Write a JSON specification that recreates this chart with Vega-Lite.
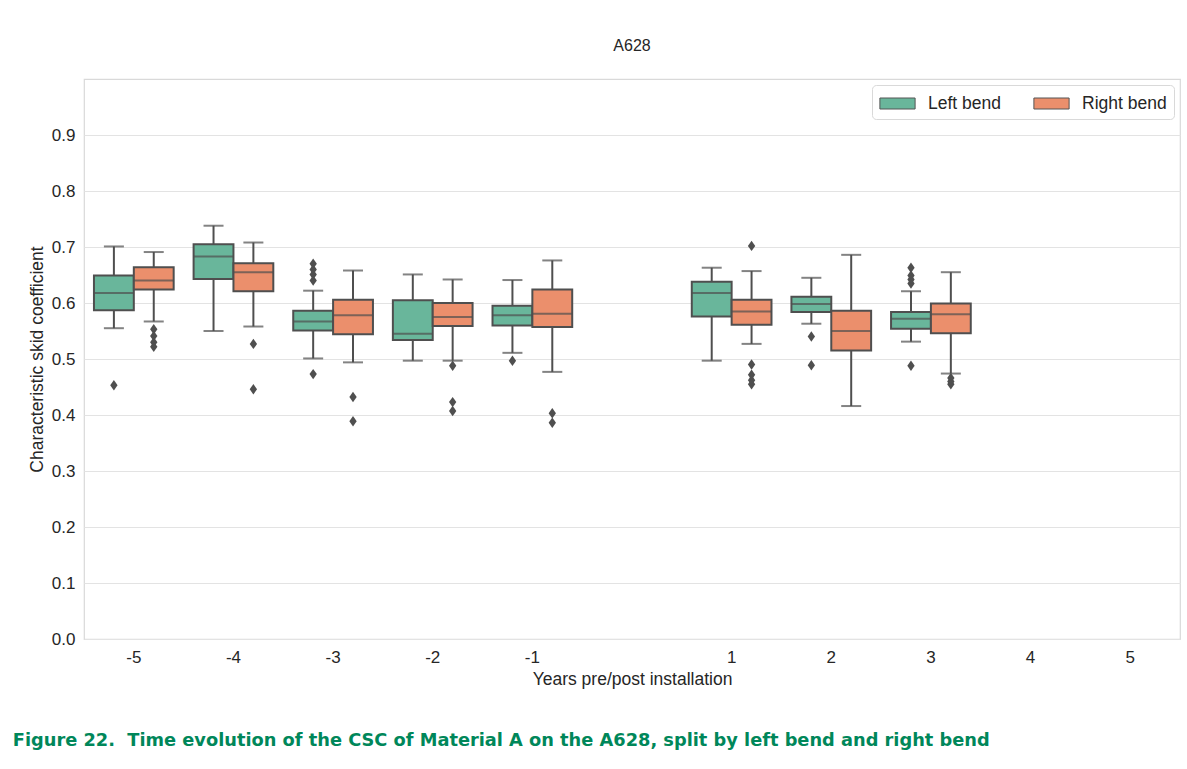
{
  "$schema": "https://vega.github.io/schema/vega-lite/v6.json",
  "background": "white",
  "autosize": {"type": "pad"},
  "padding": {"left": 12, "top": 37, "right": 7, "bottom": 12},
  "datasets": {
    "boxes": [
      {"year": -5, "side": "Left bend", "lo": 0.555, "q1": 0.587, "med": 0.618, "q3": 0.649, "hi": 0.701},
      {"year": -5, "side": "Right bend", "lo": 0.567, "q1": 0.624, "med": 0.640, "q3": 0.664, "hi": 0.691},
      {"year": -4, "side": "Left bend", "lo": 0.550, "q1": 0.643, "med": 0.683, "q3": 0.705, "hi": 0.738},
      {"year": -4, "side": "Right bend", "lo": 0.558, "q1": 0.621, "med": 0.655, "q3": 0.671, "hi": 0.708},
      {"year": -3, "side": "Left bend", "lo": 0.501, "q1": 0.551, "med": 0.567, "q3": 0.586, "hi": 0.622},
      {"year": -3, "side": "Right bend", "lo": 0.494, "q1": 0.544, "med": 0.578, "q3": 0.606, "hi": 0.658},
      {"year": -2, "side": "Left bend", "lo": 0.497, "q1": 0.534, "med": 0.545, "q3": 0.605, "hi": 0.651},
      {"year": -2, "side": "Right bend", "lo": 0.497, "q1": 0.559, "med": 0.575, "q3": 0.600, "hi": 0.642},
      {"year": -1, "side": "Left bend", "lo": 0.511, "q1": 0.560, "med": 0.578, "q3": 0.595, "hi": 0.641},
      {"year": -1, "side": "Right bend", "lo": 0.477, "q1": 0.557, "med": 0.581, "q3": 0.624, "hi": 0.676},
      {"year": 1, "side": "Left bend", "lo": 0.497, "q1": 0.576, "med": 0.618, "q3": 0.638, "hi": 0.663},
      {"year": 1, "side": "Right bend", "lo": 0.527, "q1": 0.561, "med": 0.585, "q3": 0.606, "hi": 0.657},
      {"year": 2, "side": "Left bend", "lo": 0.563, "q1": 0.584, "med": 0.598, "q3": 0.611, "hi": 0.645},
      {"year": 2, "side": "Right bend", "lo": 0.416, "q1": 0.515, "med": 0.550, "q3": 0.586, "hi": 0.686},
      {"year": 3, "side": "Left bend", "lo": 0.531, "q1": 0.554, "med": 0.572, "q3": 0.584, "hi": 0.621},
      {"year": 3, "side": "Right bend", "lo": 0.474, "q1": 0.546, "med": 0.580, "q3": 0.599, "hi": 0.655}
    ],
    "outliers": [
      {"year": -5, "side": "Left bend", "value": 0.453},
      {"year": -5, "side": "Right bend", "value": 0.553},
      {"year": -5, "side": "Right bend", "value": 0.541},
      {"year": -5, "side": "Right bend", "value": 0.530},
      {"year": -5, "side": "Right bend", "value": 0.522},
      {"year": -4, "side": "Right bend", "value": 0.527},
      {"year": -4, "side": "Right bend", "value": 0.446},
      {"year": -3, "side": "Left bend", "value": 0.670},
      {"year": -3, "side": "Left bend", "value": 0.660},
      {"year": -3, "side": "Left bend", "value": 0.651},
      {"year": -3, "side": "Left bend", "value": 0.640},
      {"year": -3, "side": "Left bend", "value": 0.473},
      {"year": -3, "side": "Right bend", "value": 0.432},
      {"year": -3, "side": "Right bend", "value": 0.389},
      {"year": -2, "side": "Right bend", "value": 0.488},
      {"year": -2, "side": "Right bend", "value": 0.423},
      {"year": -2, "side": "Right bend", "value": 0.407},
      {"year": -1, "side": "Left bend", "value": 0.497},
      {"year": -1, "side": "Right bend", "value": 0.403},
      {"year": -1, "side": "Right bend", "value": 0.386},
      {"year": 1, "side": "Right bend", "value": 0.702},
      {"year": 1, "side": "Right bend", "value": 0.490},
      {"year": 1, "side": "Right bend", "value": 0.472},
      {"year": 1, "side": "Right bend", "value": 0.462},
      {"year": 1, "side": "Right bend", "value": 0.455},
      {"year": 2, "side": "Left bend", "value": 0.540},
      {"year": 2, "side": "Left bend", "value": 0.489},
      {"year": 3, "side": "Left bend", "value": 0.663},
      {"year": 3, "side": "Left bend", "value": 0.649},
      {"year": 3, "side": "Left bend", "value": 0.642},
      {"year": 3, "side": "Left bend", "value": 0.635},
      {"year": 3, "side": "Left bend", "value": 0.488},
      {"year": 3, "side": "Right bend", "value": 0.466},
      {"year": 3, "side": "Right bend", "value": 0.460},
      {"year": 3, "side": "Right bend", "value": 0.455}
    ]
  },
  "title": {
    "text": "Figure 22.\u00a0 Time evolution of the CSC of Material A on the A628, split by left bend and right bend",
    "orient": "bottom",
    "anchor": "start",
    "frame": "bounds",
    "dx": -15,
    "offset": 44,
    "font": "DejaVu Sans",
    "fontSize": 17.8,
    "fontWeight": "bold",
    "color": "#00875a"
  },
  "vconcat": [
    {
      "width": 1096,
      "height": 560,
      "title": {
        "text": "A628",
        "font": "Liberation Sans",
        "fontSize": 16,
        "fontWeight": "normal",
        "color": "#262626",
        "offset": 25
      },
      "encoding": {
        "x": {
          "field": "year",
          "type": "ordinal",
          "scale": {
            "type": "band",
            "domain": [-5, -4, -3, -2, -1, 0, 1, 2, 3, 4, 5],
            "paddingInner": 0.2,
            "paddingOuter": 0.1
          },
          "axis": {
            "title": "Years pre/post installation",
            "labelAngle": 0,
            "labelExpr": "datum.value == 0 ? '' : datum.label",
            "labelPadding": 10,
            "titlePadding": 5,
            "grid": false
          }
        },
        "xOffset": {
          "field": "side",
          "type": "nominal",
          "scale": {"domain": ["Left bend", "Right bend"]}
        }
      },
      "layer": [
        {
          "data": {"name": "boxes"},
          "mark": {"type": "rule", "color": "#4f4f4f", "strokeWidth": 2},
          "encoding": {
            "y": {
              "field": "lo",
              "type": "quantitative",
              "scale": {"domain": [0, 1], "nice": false, "zero": true},
              "axis": {
                "title": "Characteristic skid coefficient",
                "values": [0, 0.1, 0.2, 0.3, 0.4, 0.5, 0.6, 0.7, 0.8, 0.9],
                "format": ".1f",
                "labelPadding": 9,
                "titlePadding": 5
              }
            },
            "y2": {"field": "hi"}
          }
        },
        {
          "data": {"name": "boxes"},
          "mark": {"type": "bar", "stroke": "#4f4f4f", "strokeWidth": 2, "opacity": 1},
          "encoding": {
            "y": {"field": "q1", "type": "quantitative"},
            "y2": {"field": "q3"},
            "color": {
              "field": "side",
              "type": "nominal",
              "scale": {"domain": ["Left bend", "Right bend"], "range": ["#69b69b", "#eb8f6c"]},
              "legend": {
                "title": null,
                "orient": "top-right",
                "direction": "horizontal",
                "offset": 6,
                "padding": 7,
                "strokeColor": "#d9d9d9",
                "fillColor": "white",
                "cornerRadius": 4,
                "symbolType": "M-1.6,-0.5H1.6V0.5H-1.6Z",
                "symbolSize": 484,
                "symbolOffset": 7,
                "symbolStrokeColor": "#555555",
                "symbolStrokeWidth": 1,
                "symbolOpacity": 1,
                "labelFont": "Liberation Sans",
                "labelFontSize": 17.5,
                "labelColor": "#262626",
                "labelOffset": 19,
                "columnPadding": 30
              }
            }
          }
        },
        {
          "data": {"name": "boxes"},
          "mark": {"type": "tick", "orient": "horizontal", "color": "#4f4f4f", "thickness": 2, "size": 40},
          "encoding": {"y": {"field": "med", "type": "quantitative"}}
        },
        {
          "data": {"name": "boxes"},
          "mark": {"type": "tick", "orient": "horizontal", "color": "#4f4f4f", "thickness": 2, "size": 20},
          "encoding": {"y": {"field": "lo", "type": "quantitative"}}
        },
        {
          "data": {"name": "boxes"},
          "mark": {"type": "tick", "orient": "horizontal", "color": "#4f4f4f", "thickness": 2, "size": 20},
          "encoding": {"y": {"field": "hi", "type": "quantitative"}}
        },
        {
          "data": {"name": "outliers"},
          "mark": {
            "type": "point",
            "shape": "M0,-1L0.7,0L0,1L-0.7,0Z",
            "filled": true,
            "color": "#4f4f4f",
            "opacity": 1,
            "size": 110
          },
          "encoding": {"y": {"field": "value", "type": "quantitative"}}
        }
      ]
    }
  ],
  "config": {
    "font": "Liberation Sans",
    "view": {"stroke": "#d9d9d9", "strokeWidth": 1.2},
    "axis": {
      "labelFont": "Liberation Sans",
      "labelFontSize": 17,
      "labelColor": "#262626",
      "titleFont": "Liberation Sans",
      "titleFontSize": 17.5,
      "titleFontWeight": "normal",
      "titleColor": "#262626",
      "ticks": false,
      "domain": false,
      "gridColor": "#e3e3e3",
      "gridWidth": 1.2
    }
  }
}
